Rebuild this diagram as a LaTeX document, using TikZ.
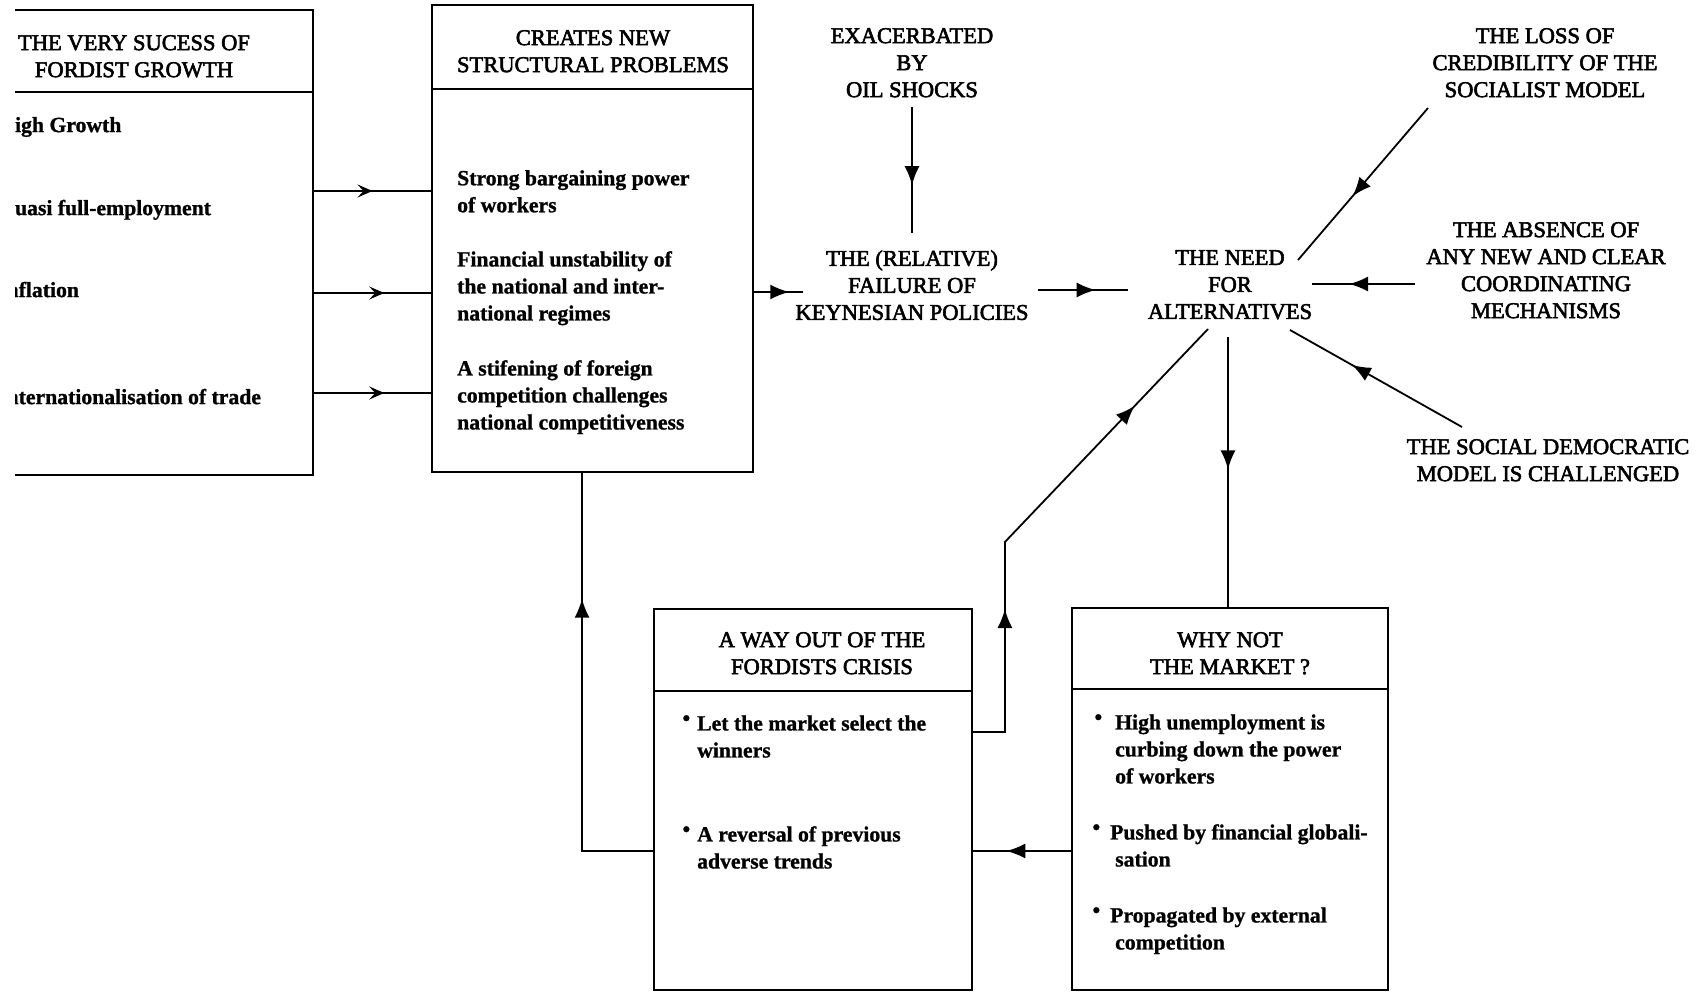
\documentclass[tikz,border=0pt]{standalone}
\usepackage{fontspec}
\setmainfont{Liberation Serif}
\usetikzlibrary{arrows.meta,decorations.markings}
\newcommand\myhdr{\fontsize{22.5}{27}\selectfont\addfontfeature{FakeBold=2.5}}
\newcommand\mybody{\fontsize{21.7}{27}\selectfont\bfseries\addfontfeature{FakeBold=1}}
\newcommand\bul[1]{\llap{\raisebox{5pt}{\fontsize{22}{22}\selectfont\textbullet}\hspace{#1}}}
\begin{document}
\begin{tikzpicture}[x=1pt,y=-1pt,
  hdr/.style={font=\myhdr, align=center, inner sep=0pt, anchor=north, execute at begin node=\strut},
  body/.style={font=\mybody, align=left, inner sep=0pt, anchor=north west, execute at begin node=\strut},
  box/.style={draw, line width=1.8pt, inner sep=0pt},
  conn/.style={line width=1.8pt},
  midarr/.style={postaction={decorate}, decoration={markings, mark=at position #1 with {\arrow{Latex[length=19pt,width=15pt]}}}},
  smidarr/.style={postaction={decorate}, decoration={markings, mark=at position #1 with {\arrow{Stealth[length=15pt,width=13pt,inset=6pt]}}}},
]
\fill[white] (0,0) rectangle (1702,993);
\useasboundingbox (0,0) rectangle (1702,993);

% Box 1 (cut off at the left)
\begin{scope}
\clip (15,0) rectangle (1702,993);
\node[box, minimum width=358pt, minimum height=465pt] (b1) at (134,242.5) {};
\draw[conn] ([yshift=-83pt]b1.north west) -- ([yshift=-83pt]b1.north east);
\node[body] (b1a) at (-2,113) {High Growth};
\node[body] (b1b) at (-2,196) {Quasi full-employment};
\node[body] (b1c) at (-2,278) {Inflation};
\node[body] (b1d) at (-2,385) {Internationalisation of trade};
\end{scope}
\node[hdr] (b1h) at (134,35) {THE VERY SUCESS OF\\FORDIST GROWTH};

% Box 2
\node[box, minimum width=321pt, minimum height=467pt] (b2) at (592.5,238.5) {};
\draw[conn] ([yshift=-85pt]b2.north west) -- ([yshift=-85pt]b2.north east);
\node[hdr] (b2h) at (593,30) {CREATES NEW\\STRUCTURAL PROBLEMS};
\node[body] (b2a) at (457,170) {Strong bargaining power\\of workers};
\node[body] (b2b) at (457,251) {Financial unstability of\\the national and inter-\\national regimes};
\node[body] (b2c) at (457,360) {A stifening of foreign\\competition challenges\\national competitiveness};

% Box 3
\node[box, minimum width=318pt, minimum height=381pt] (b3) at (813,799.5) {};
\draw[conn] ([yshift=-83pt]b3.north west) -- ([yshift=-83pt]b3.north east);
\node[hdr] (b3h) at (822,632) {A WAY OUT OF THE\\FORDISTS CRISIS};
\node[body] (b3a) at (697,715) {\bul{7pt}Let the market select the\\winners};
\node[body] (b3b) at (697,826) {\bul{7pt}A reversal of previous\\adverse trends};

% Box 4
\node[box, minimum width=316pt, minimum height=382pt] (b4) at (1230,799) {};
\draw[conn] ([yshift=-82pt]b4.north west) -- ([yshift=-82pt]b4.north east);
\node[hdr] (b4h) at (1230,632) {WHY NOT\\THE MARKET ?};
\node[body] (b4a) at (1115,714) {\bul{13pt}High unemployment is\\curbing down the power\\of workers};
\node[body] (b4b) at (1110,824) {\bul{10pt}Pushed by financial globali-\\\hspace*{5pt}sation};
\node[body] (b4c) at (1110,907) {\bul{10pt}Propagated by external\\\hspace*{5pt}competition};

% Free texts
\node[hdr] (oil) at (912,28) {EXACERBATED\\BY\\OIL SHOCKS};
\node[hdr] (keynes) at (912,250) {THE (RELATIVE)\\FAILURE OF\\KEYNESIAN POLICIES};
\node[hdr] (need) at (1230,250) {THE NEED\\FOR\\ALTERNATIVES};
\node[hdr] (loss) at (1545,28) {THE LOSS OF\\CREDIBILITY OF THE\\SOCIALIST MODEL};
\node[hdr] (absence) at (1546,222) {THE ABSENCE OF\\ANY NEW AND CLEAR\\COORDINATING\\MECHANISMS};
\node[hdr] (socdem) at (1548,439) {THE SOCIAL DEMOCRATIC\\MODEL IS CHALLENGED};

% Connectors box1 -> box2
\draw[conn, smidarr=0.5] ([shift={(0,-51.5)}]b1.east) -- ([shift={(0,-47.5)}]b2.west);
\draw[conn, smidarr=0.6] ([shift={(0,50.5)}]b1.east) -- ([shift={(0,54.5)}]b2.west);
\draw[conn, smidarr=0.6] ([shift={(0,150.5)}]b1.east) -- ([shift={(0,154.5)}]b2.west);

% box2 -> keynes
\draw[conn, midarr=0.72] ([shift={(0,53.5)}]b2.east) -- ([shift={(-109,42)}]keynes.north);
% oil -> keynes
\draw[conn, midarr=0.62] ([shift={(0,79)}]oil.north) -- ([shift={(0,-17)}]keynes.north);
% keynes -> need
\draw[conn, midarr=0.64] ([shift={(126,40)}]keynes.north) -- ([shift={(-102,40)}]need.north);
% loss -> need
\draw[conn, midarr=0.58] ([shift={(-117,80)}]loss.north) -- ([shift={(68,10)}]need.north);
% absence -> need
\draw[conn, midarr=0.64] ([shift={(-131,62)}]absence.north) -- ([shift={(82,34)}]need.north);
% socdem -> need
\draw[conn, midarr=0.64] ([shift={(-86,-12)}]socdem.north) -- ([shift={(60,80)}]need.north);
% need -> box4
\draw[conn, midarr=0.49] ([shift={(-2,87)}]need.north) -- ([shift={(-2,0)}]b4.north);
% box3 -> need
\draw[conn, postaction={decorate}, decoration={markings,
    mark=at position 155pt with {\arrow{Latex[length=19pt,width=15pt]}},
    mark=at position 410pt with {\arrow{Latex[length=19pt,width=15pt]}}}]
  ([shift={(0,-67.5)}]b3.east) -- ++(32,0) -- ++(0,-190) -- ([shift={(-22,79)}]need.north);
% box4 -> box3
\draw[conn, midarr=0.66] ([shift={(0,52)}]b4.west) -- ([shift={(0,51.5)}]b3.east);
% box3 -> box2
\draw[conn, midarr=0.72] ([shift={(0,51.5)}]b3.west) -| ([shift={(-10.5,0)}]b2.south);
\end{tikzpicture}
\end{document}
